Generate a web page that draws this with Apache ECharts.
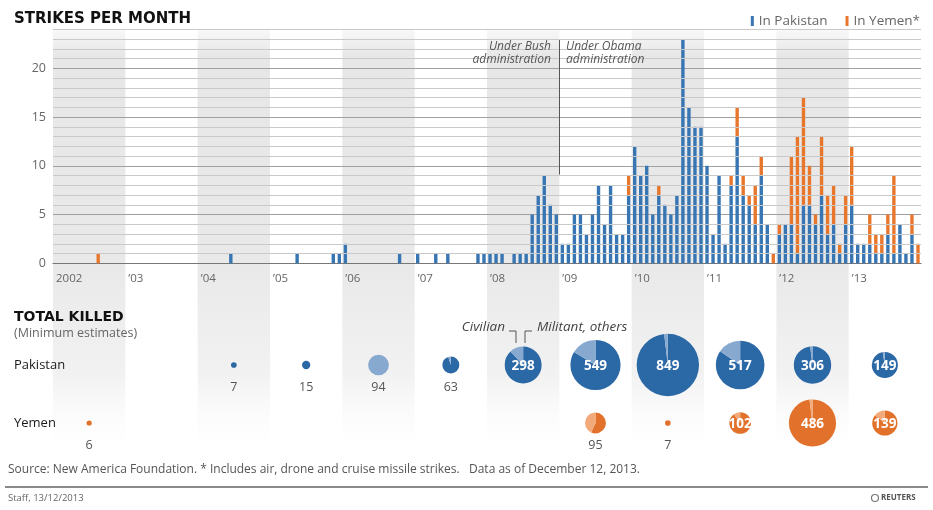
<!DOCTYPE html>
<html><head><meta charset="utf-8">
<script src="https://cdn.jsdelivr.net/npm/echarts@6/dist/echarts.min.js"></script>
<style>html,body{margin:0;padding:0;background:#fff}#c{width:933px;height:510px}</style>
</head><body><div id="c"></div>
<script>
// ---------- DATA ----------
const years = [2002,2003,2004,2005,2006,2007,2008,2009,2010,2011,2012,2013];
const yearLabels = ['2002','\u201903','\u201904','\u201905','\u201906','\u201907','\u201908','\u201909','\u201910','\u201911','\u201912','\u201913'];
const yTickLabels = [0,5,10,15,20];

// Strikes per month, Jan..Dec for each year
const pakistanStrikes = [
  0,0,0,0,0,0,0,0,0,0,0,0,        // 2002
  0,0,0,0,0,0,0,0,0,0,0,0,        // 2003
  0,0,0,0,0,1,0,0,0,0,0,0,        // 2004
  0,0,0,0,1,0,0,0,0,0,1,1,        // 2005
  2,0,0,0,0,0,0,0,0,1,0,0,        // 2006
  1,0,0,1,0,1,0,0,0,0,1,1,        // 2007
  1,1,1,0,1,1,1,5,7,9,6,5,        // 2008
  2,2,5,5,3,5,8,4,8,3,3,7,        // 2009
  12,9,10,5,7,6,5,7,23,16,14,14,  // 2010
  10,3,9,2,8,13,7,6,4,9,4,0,      // 2011
  3,4,4,1,6,6,4,7,3,4,1,4,        // 2012
  6,2,2,2,1,1,3,1,4,1,3,0         // 2013
];
const yemenStrikes = [
  0,0,0,0,0,0,0,1,0,0,0,0,        // 2002
  0,0,0,0,0,0,0,0,0,0,0,0,        // 2003
  0,0,0,0,0,0,0,0,0,0,0,0,        // 2004
  0,0,0,0,0,0,0,0,0,0,0,0,        // 2005
  0,0,0,0,0,0,0,0,0,0,0,0,        // 2006
  0,0,0,0,0,0,0,0,0,0,0,0,        // 2007
  0,0,0,0,0,0,0,0,0,0,0,0,        // 2008
  0,0,0,0,0,0,0,0,0,0,0,2,        // 2009
  0,0,0,0,1,0,0,0,0,0,0,0,        // 2010
  0,0,0,0,1,3,2,1,4,2,0,1,        // 2011
  1,0,7,12,11,4,1,6,4,4,1,3,      // 2012
  6,0,0,3,2,2,2,8,0,0,2,2         // 2013
];

// Total killed per year (minimum estimates) and civilian part
const pakistanKilled   = [0,0,7,15,94,63,298,549,849,517,306,149];
const pakistanCivilian = [0,0,0,0,94,3,36,90,16,80,6,4];
const yemenKilled      = [6,0,0,0,0,0,0,95,7,102,486,139];
const yemenCivilian    = [0,0,0,0,0,0,0,41,0,10,10,20];
const rowNames = ['Pakistan','Yemen'];

// ---------- STYLE ----------
const FONT = 'Open Sans';
const HEAD = 'DejaVu Sans';
const BLUE = '#3776b3', ORANGE = '#e8772e';
const PK_DARK = '#2b68a6', PK_LIGHT = '#88a9cf';
const YE_DARK = '#e2722b', YE_LIGHT = '#f2aa7b';
const RADIUS_K = 1.07;

const months = years.flatMap(y => Array.from({length:12}, (_, m) => y + '-' + (m + 1)));
// shaded year bands: [startMonth, endMonth]
const bandData = years.map((y, i) => i).filter(i => i % 2 === 0).map(i => [i * 12, i * 12 + 12]);
// minor horizontal guide values (every unit, except the labelled ones)
const minorGuides = Array.from({length:25}, (_, v) => v).filter(v => v % 5 !== 0);

const pieData = [];
years.forEach((y, i) => {
  if (pakistanKilled[i] > 0) pieData.push([i * 12 + 6, 0, pakistanKilled[i], pakistanCivilian[i]]);
  if (yemenKilled[i] > 0) pieData.push([i * 12 + 6, 1, yemenKilled[i], yemenCivilian[i]]);
});

function renderBand(params, api) {
  const p0 = api.coord([api.value(0), 1]);
  const p1 = api.coord([api.value(1), 0]);
  return {
    type:'rect',
    shape:{x:p0[0], y:p0[1], width:p1[0] - p0[0], height:p1[1] - p0[1]},
    style:{fill:new echarts.graphic.LinearGradient(0,0,0,1,[
      {offset:0, color:'rgba(232,232,232,0.3)'},
      {offset:0.06, color:'rgba(231,231,231,1)'},
      {offset:0.55, color:'rgba(233,233,233,1)'},
      {offset:0.8, color:'rgba(240,240,240,0.9)'},
      {offset:1, color:'rgba(255,255,255,0)'}])}
  };
}

function renderPie(params, api) {
  const c = api.coord([api.value(0), api.value(1)]);
  const row = api.value(1), total = api.value(2), civ = api.value(3);
  const r = RADIUS_K * Math.sqrt(total);
  const dark = row === 0 ? PK_DARK : YE_DARK;
  const light = row === 0 ? PK_LIGHT : YE_LIGHT;
  const th = 2 * Math.PI * civ / total;
  const top = -Math.PI / 2;
  const children = [];
  if (civ < total) children.push({type:'sector', shape:{cx:c[0], cy:c[1], r:r, r0:0, startAngle:top, endAngle:top + 2 * Math.PI - th, clockwise:true}, style:{fill:dark}});
  if (civ > 0) children.push({type:'sector', shape:{cx:c[0], cy:c[1], r:r, r0:0, startAngle:top - th, endAngle:top, clockwise:true}, style:{fill:light}});
  if (total >= 100) {
    children.push({type:'text', style:{text:String(total), x:c[0], y:c[1] + 1, align:'center', verticalAlign:'middle', fill:'#fff', fontSize:13.5, fontWeight:'bold', fontFamily:FONT}});
  } else {
    children.push({type:'text', style:{text:String(total), x:c[0], y:c[1] + 22, align:'center', verticalAlign:'middle', fill:'#555', fontSize:12.5, fontFamily:FONT}});
  }
  return {type:'group', children:children};
}

const chart = echarts.init(document.getElementById('c'), null, {renderer:'canvas'});
const option = {
  animation: false,
  backgroundColor: '#fff',
  textStyle: {fontFamily: FONT},
  title: {text:'STRIKES PER MONTH', left:9, top:7, textStyle:{fontSize:15, fontWeight:'bold', color:'#111', fontFamily:HEAD}},
  legend: {
    data:['In Pakistan','In Yemen*'], right:8, top:9, icon:'rect', itemWidth:3, itemHeight:10, itemGap:18,
    textStyle:{color:'#666', fontSize:13.5, fontFamily:FONT}
  },
  grid: [
    {left:53, right:12, top:29.3, height:234},
    {left:53, right:12, top:336, height:116},
    {left:53, right:12, top:29.3, height:431}
  ],
  xAxis: [
    {type:'category', gridIndex:0, data:months, boundaryGap:true, z:3,
     axisLine:{lineStyle:{color:'#777', width:1.2}},
     axisTick:{interval:(i) => i % 12 === 0, length:5, lineStyle:{color:'#777'}},
     axisLabel:{interval:(i) => i % 12 === 0, formatter:(v, i) => yearLabels[Math.floor(i / 12)], align:'left', color:'#666', fontSize:11.5, margin:9}},
    {type:'value', gridIndex:0, min:0, max:144, show:false},
    {type:'value', gridIndex:1, min:0, max:144, show:false},
    {type:'value', gridIndex:2, min:0, max:144, show:false}
  ],
  yAxis: [
    {type:'value', gridIndex:0, min:0, max:24, interval:5,
     axisLine:{show:false}, axisTick:{show:false},
     axisLabel:{formatter:(v) => yTickLabels.indexOf(v) >= 0 ? String(v) : '', color:'#666', fontSize:12.5, margin:7},
     splitLine:{lineStyle:{color:'#a0a0a0', width:1}}},
    {type:'category', gridIndex:1, data:rowNames, inverse:true,
     axisLine:{show:false}, axisTick:{show:false}, splitLine:{show:false},
     axisLabel:{align:'left', margin:39, color:'#1a1a1a', fontSize:13, fontFamily:FONT}},
    {type:'value', gridIndex:2, min:0, max:1, show:false}
  ],
  series: [
    {type:'custom', name:'bands', xAxisIndex:3, yAxisIndex:2, data:bandData, renderItem:renderBand,
     encode:{x:[0,1]}, z:-10, silent:true, clip:false},
    {type:'line', name:'guides', xAxisIndex:1, yAxisIndex:0, data:[], silent:true, z:1,
     markLine:{symbol:'none', silent:true, label:{show:false}, emphasis:{disabled:true},
       lineStyle:{color:'#c9c9c9', width:1, type:'solid'},
       data:minorGuides.map(v => ({yAxis:v}))}},
    {type:'bar', name:'In Pakistan', xAxisIndex:0, yAxisIndex:0, stack:'s', data:pakistanStrikes, barWidth:3.4, itemStyle:{color:BLUE}, z:3},
    {type:'bar', name:'In Yemen*', xAxisIndex:0, yAxisIndex:0, stack:'s', data:yemenStrikes, barWidth:3.4, itemStyle:{color:ORANGE}, z:3},
    {type:'line', name:'admin', xAxisIndex:1, yAxisIndex:0, data:[], silent:true,
     markLine:{symbol:'none', silent:true, label:{show:false}, lineStyle:{color:'#555', width:1, type:'solid'},
       data:[[{coord:[84, 22.9]}, {coord:[84, 9.1]}]]}},
    {type:'custom', name:'killed', xAxisIndex:2, yAxisIndex:1, data:pieData, renderItem:renderPie, silent:true}
  ],
  graphic: [
    {type:'text', x:551, y:47, z:10, style:{text:'Under Bush', align:'right', verticalAlign:'middle', fill:'#555', fontSize:12, fontStyle:'italic', fontFamily:FONT}},
    {type:'text', x:551, y:60, z:10, style:{text:'administration', align:'right', verticalAlign:'middle', fill:'#555', fontSize:12, fontStyle:'italic', fontFamily:FONT}},
    {type:'text', x:566, y:47, z:10, style:{text:'Under Obama', align:'left', verticalAlign:'middle', fill:'#555', fontSize:12, fontStyle:'italic', fontFamily:FONT}},
    {type:'text', x:566, y:60, z:10, style:{text:'administration', align:'left', verticalAlign:'middle', fill:'#555', fontSize:12, fontStyle:'italic', fontFamily:FONT}},
    {type:'text', x:14, y:317, z:10, style:{text:'TOTAL KILLED', align:'left', verticalAlign:'middle', fill:'#111', fontSize:14, fontWeight:'bold', fontFamily:HEAD}},
    {type:'text', x:14, y:333, z:10, style:{text:'(Minimum estimates)', align:'left', verticalAlign:'middle', fill:'#666', fontSize:12.5, fontFamily:FONT}},
    {type:'text', x:505, y:327, z:10, style:{text:'Civilian', align:'right', verticalAlign:'middle', fill:'#444', fontSize:13.5, fontStyle:'italic', fontFamily:FONT}},
    {type:'text', x:537, y:327, z:10, style:{text:'Militant, others', align:'left', verticalAlign:'middle', fill:'#444', fontSize:13.5, fontStyle:'italic', fontFamily:FONT}},
    {type:'polyline', z:10, shape:{points:[[509,331],[516,331],[516,343]]}, style:{stroke:'#555', lineWidth:1, fill:null}},
    {type:'polyline', z:10, shape:{points:[[532,331],[525,331],[525,343]]}, style:{stroke:'#555', lineWidth:1, fill:null}},
    {type:'text', x:8, y:470, z:10, style:{text:'Source: New America Foundation. * Includes air, drone and cruise missile strikes.   Data as of December 12, 2013.', align:'left', verticalAlign:'middle', fill:'#555', fontSize:12, fontFamily:FONT}},
    {type:'line', z:10, shape:{x1:5, y1:487, x2:928, y2:487}, style:{stroke:'#8a8a8a', lineWidth:2}},
    {type:'text', x:8, y:498, z:10, style:{text:'Staff, 13/12/2013', align:'left', verticalAlign:'middle', fill:'#666', fontSize:9.5, fontFamily:FONT}},
    {type:'circle', z:10, shape:{cx:875, cy:498, r:3.5}, style:{stroke:'#777', lineWidth:1.2, fill:null}},
    {type:'text', x:881, y:498, z:10, style:{text:'REUTERS', align:'left', verticalAlign:'middle', fill:'#555', fontSize:8, fontWeight:'bold', fontFamily:FONT}}
  ]
};
chart.setOption(option);
</script></body></html>
